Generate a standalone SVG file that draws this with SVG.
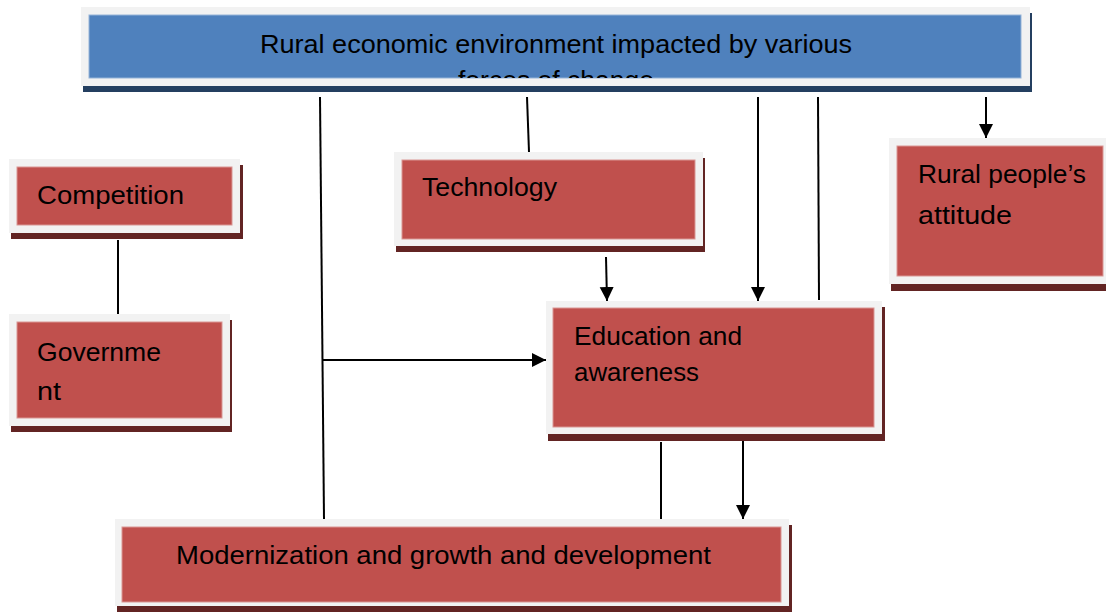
<svg xmlns="http://www.w3.org/2000/svg" width="1106" height="612" viewBox="0 0 1106 612">
<style>
.frame{fill:#F2F2F2}
.shR{fill:#622423}
.shB{fill:#243F60}
.red{fill:#C0504D;stroke:#D99694;stroke-width:1}
.blue{fill:#4F81BD;stroke:#95B3D7;stroke-width:1}
.t{font-family:"Liberation Sans",Arial,sans-serif;font-size:26px;fill:#000}
.c{fill:none;stroke:#000;stroke-width:2}
</style>
<defs>
<marker id="ah" viewBox="0 0 12 12" refX="12" refY="6" markerWidth="14" markerHeight="15" markerUnits="userSpaceOnUse" orient="auto">
<path d="M0,0 L12,6 L0,12 z" fill="#000"/>
</marker>
<clipPath id="topclip"><rect x="89" y="15" width="932" height="63"/></clipPath>
</defs>
<rect width="1106" height="612" fill="#fff"/>

<g id="top">
<rect class="shB" x="83" y="13" width="949" height="79"/>
<rect class="frame" x="81" y="7" width="949" height="79"/>
<rect class="blue" x="89" y="15" width="932" height="63"/>
<g clip-path="url(#topclip)">
<text class="t" x="556" y="53" text-anchor="middle" textLength="592" lengthAdjust="spacingAndGlyphs">Rural economic environment impacted by various</text>
<text class="t" x="556" y="89" text-anchor="middle" textLength="196" lengthAdjust="spacingAndGlyphs">forces of change</text>
</g>
</g>

<g id="competition">
<rect class="shR" x="11" y="165" width="232" height="74"/>
<rect class="frame" x="9" y="159" width="231" height="74"/>
<rect class="red" x="17" y="167" width="215" height="58"/>
<text class="t" x="37" y="204" textLength="147" lengthAdjust="spacingAndGlyphs">Competition</text>
</g>

<g id="government">
<rect class="shR" x="11" y="320" width="221" height="112"/>
<rect class="frame" x="9" y="314" width="221" height="112"/>
<rect class="red" x="17" y="322" width="205" height="96"/>
<text class="t" x="37" y="361" textLength="124" lengthAdjust="spacingAndGlyphs">Governme</text>
<text class="t" x="37" y="400" textLength="24" lengthAdjust="spacingAndGlyphs">nt</text>
</g>

<g id="technology">
<rect class="shR" x="396" y="158" width="309" height="94"/>
<rect class="frame" x="394" y="152" width="309" height="94"/>
<rect class="red" x="402" y="160" width="293" height="79"/>
<text class="t" x="422" y="196" textLength="135" lengthAdjust="spacingAndGlyphs">Technology</text>
</g>

<g id="attitude">
<rect class="shR" x="891" y="144" width="220" height="147"/>
<rect class="frame" x="889" y="138" width="220" height="146"/>
<rect class="red" x="897" y="146" width="206" height="130"/>
<text class="t" x="918" y="183" textLength="168" lengthAdjust="spacingAndGlyphs">Rural people’s</text>
<text class="t" x="918" y="224" textLength="94" lengthAdjust="spacingAndGlyphs">attitude</text>
</g>

<g id="education">
<rect class="shR" x="548" y="307" width="337" height="134"/>
<rect class="frame" x="546" y="301" width="336" height="133"/>
<rect class="red" x="553" y="308" width="321" height="119"/>
<text class="t" x="574" y="345" textLength="168" lengthAdjust="spacingAndGlyphs">Education and</text>
<text class="t" x="574" y="381" textLength="125" lengthAdjust="spacingAndGlyphs">awareness</text>
</g>

<g id="modernization">
<rect class="shR" x="117" y="525" width="675" height="87"/>
<rect class="frame" x="115" y="519" width="674" height="87"/>
<rect class="red" x="122" y="527" width="659" height="75"/>
<text class="t" x="176" y="564" textLength="535" lengthAdjust="spacingAndGlyphs">Modernization and growth and development</text>
</g>

<g id="connectors">
<line class="c" x1="320" y1="97" x2="324" y2="519"/>
<line class="c" x1="323" y1="360" x2="546" y2="360" marker-end="url(#ah)"/>
<line class="c" x1="527" y1="97" x2="529" y2="152"/>
<line class="c" x1="606" y1="257" x2="607" y2="301" marker-end="url(#ah)"/>
<line class="c" x1="758" y1="97" x2="758" y2="301" marker-end="url(#ah)"/>
<line class="c" x1="818" y1="97" x2="819" y2="300"/>
<line class="c" x1="986" y1="97" x2="986" y2="138" marker-end="url(#ah)"/>
<line class="c" x1="118" y1="240" x2="118" y2="314"/>
<line class="c" x1="661" y1="442" x2="661" y2="519"/>
<line class="c" x1="743" y1="441" x2="743" y2="519" marker-end="url(#ah)"/>
</g>
</svg>
